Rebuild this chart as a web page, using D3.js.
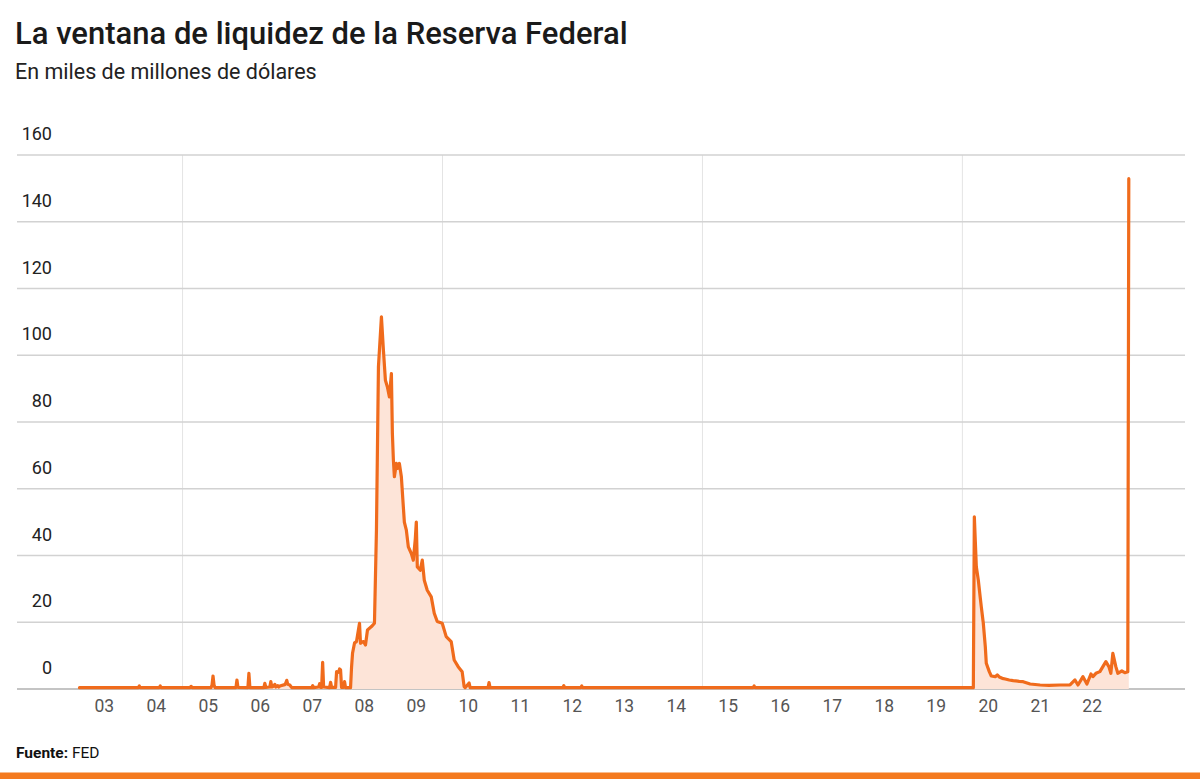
<!DOCTYPE html>
<html>
<head>
<meta charset="utf-8">
<script src="https://cdn.jsdelivr.net/npm/d3@7"></script>
<style>
  body { margin: 0; background: #fff; }
  svg { display: block; font-family: Roboto, "Noto Sans", sans-serif; }
</style>
</head>
<body>
<div id="chart"></div>
<script>
// Weekly discount window readings (billions of USD)
var dates = [
  "2003-01-08","2004-02-25","2004-03-03","2004-03-10","2004-07-21","2004-07-28","2004-08-04",
  "2005-02-23","2005-03-02","2005-03-09","2005-07-20","2005-07-27","2005-08-03","2005-08-10","2005-08-17",
  "2006-01-11","2006-01-18","2006-01-25","2006-04-05","2006-04-12","2006-04-19",
  "2006-07-26","2006-08-02","2006-08-09","2006-09-06","2006-09-13","2006-09-20","2006-10-04","2006-10-11","2006-10-18",
  "2006-11-01","2006-11-08","2006-11-15","2006-12-20","2006-12-27","2007-01-03","2007-01-10","2007-01-24","2007-02-07",
  "2007-06-27","2007-07-04","2007-07-11","2007-08-15","2007-08-22","2007-08-29","2007-09-05","2007-09-12","2007-09-19",
  "2007-10-31","2007-11-07","2007-11-14","2007-12-12","2007-12-19","2008-01-02","2008-01-09","2008-01-16","2008-01-23",
  "2008-02-06","2008-02-13","2008-02-20","2008-03-26","2008-04-02","2008-04-09","2008-04-23","2008-05-07","2008-05-28",
  "2008-06-04","2008-06-11","2008-06-25","2008-07-09","2008-07-23","2008-08-20","2008-09-10","2008-09-24","2008-10-08",
  "2008-10-29","2008-11-12","2008-11-26","2008-12-10","2008-12-24","2009-01-07","2009-01-14","2009-01-21","2009-01-28",
  "2009-02-11","2009-02-18","2009-03-04","2009-03-18","2009-04-08","2009-04-22","2009-05-06","2009-05-27","2009-06-10",
  "2009-06-24","2009-07-01","2009-07-08","2009-07-29","2009-08-12","2009-08-26","2009-09-16","2009-10-14","2009-11-04",
  "2009-11-25","2009-12-30","2010-01-27","2010-03-03","2010-03-24","2010-04-21","2010-05-19","2010-06-02","2010-06-09",
  "2010-07-07","2010-07-14","2010-11-17","2010-11-24","2010-12-01","2012-04-25","2012-05-02","2012-05-09",
  "2012-08-29","2012-09-05","2012-09-12","2015-12-23","2015-12-30","2016-01-06","2020-03-18","2020-03-25",
  "2020-04-01","2020-04-08","2020-04-22","2020-05-06","2020-05-13","2020-05-27","2020-06-10","2020-06-17","2020-07-08",
  "2020-07-22","2020-08-19","2020-09-02","2020-09-16","2020-10-07","2020-10-28","2020-11-25","2020-12-23","2021-02-03",
  "2021-03-03","2021-04-21","2021-06-30","2021-09-01","2021-11-17","2022-01-26","2022-03-02","2022-03-23","2022-04-27",
  "2022-05-25","2022-06-22","2022-07-06","2022-07-27","2022-08-24","2022-09-14","2022-10-05","2022-10-26","2022-11-09",
  "2022-11-23","2022-12-14","2022-12-28","2023-01-25","2023-02-15","2023-03-08","2023-03-15"
];
var values = [
  0.4,0.4,0.9,0.4,0.4,0.9,0.4,
  0.4,0.8,0.4,0.4,1.2,3.9,1.2,0.4,
  0.4,2.7,0.5,0.4,4.7,0.4,
  0.4,1.7,0.5,0.6,2.2,0.6,0.9,1.4,0.6,
  1.0,0.6,0.9,1.3,1.8,2.6,1.4,1.2,0.4,
  0.4,1.0,0.4,0.6,1.6,0.5,0.5,8.0,0.6,
  0.4,2.0,0.5,0.5,5.2,5.0,6.0,5.7,0.5,
  0.5,2.2,0.4,0.4,6.5,10.7,13.8,14.2,19.7,
  13.7,14.0,14.2,13.2,17.7,18.7,19.7,47.6,96.5,
  111.5,101.5,92.5,90.5,87.5,94.5,76.5,68.6,63.6,
  67.6,66.1,67.6,63.6,50.0,47.6,42.6,40.6,38.6,
  45.0,50.0,36.6,35.6,38.6,32.6,29.6,27.6,22.7,
  20.2,19.7,15.7,14.2,8.7,6.7,5.2,0.7,0.4,
  1.8,0.4,0.4,1.9,0.4,0.4,1.0,0.4,
  0.4,0.9,0.4,0.4,0.9,0.4,0.4,51.6,
  44.1,36.6,32.6,27.2,24.6,19.7,12.7,7.7,5.2,
  3.9,3.7,4.2,3.6,3.2,3.0,2.7,2.5,2.3,
  2.2,1.5,1.2,1.1,1.2,1.2,2.7,1.2,3.7,
  1.5,4.5,3.7,4.7,5.2,6.7,8.2,6.7,4.7,
  10.7,6.7,4.7,5.4,4.9,5.2,152.9
];

var yTicks = [0, 20, 40, 60, 80, 100, 120, 140, 160];
var xLabelYears = [2003,2004,2005,2006,2007,2008,2009,2010,2011,2012,2013,2014,2015,2016,2017,2018,2019,2020,2021,2022];
var xLabels = ["03","04","05","06","07","08","09","10","11","12","13","14","15","16","17","18","19","20","21","22"];
var xGridYears = [2005, 2010, 2015, 2020];

var W = 1200, H = 779;
var parse = d3.timeParse("%Y-%m-%d");
var data = dates.map(function(d, i) { return {date: parse(d), value: values[i]}; });

var svg = d3.select("#chart").append("svg")
    .attr("width", W)
    .attr("height", H);

var gridLeft = 17, gridRight = 1185;

var x = d3.scaleTime()
    .domain([new Date(2003, 0, 1), new Date(2023, 0, 1)])
    .range([78.5, 1118.4]);
var y = d3.scaleLinear()
    .domain([0, 160])
    .range([689, 155]);

// Title and subtitle
svg.append("text")
    .attr("x", 15).attr("y", 44)
    .attr("font-size", "31px").attr("font-weight", 500)
    .attr("fill", "#1a1a1a")
    .text("La ventana de liquidez de la Reserva Federal");
svg.append("text")
    .attr("x", 15).attr("y", 79)
    .attr("font-size", "21.5px")
    .attr("fill", "#222")
    .text("En miles de millones de dólares");

// Vertical gridlines
svg.selectAll(".vgrid")
  .data(xGridYears)
  .enter().append("line")
    .attr("x1", function(d) { return x(new Date(d, 0, 1)); })
    .attr("x2", function(d) { return x(new Date(d, 0, 1)); })
    .attr("y1", y(160))
    .attr("y2", y(0))
    .attr("stroke", "#e4e4e4")
    .attr("stroke-width", 1);

// Horizontal gridlines
svg.selectAll(".hgrid")
  .data(yTicks)
  .enter().append("line")
    .attr("x1", gridLeft)
    .attr("x2", gridRight)
    .attr("y1", function(d) { return y(d); })
    .attr("y2", function(d) { return y(d); })
    .attr("stroke", function(d) { return d === 0 ? "#c4c4c4" : "#d2d2d2"; })
    .attr("stroke-width", function(d) { return d === 0 ? 2 : 1.5; });

// Y labels, above each line
svg.selectAll(".ylab")
  .data(yTicks)
  .enter().append("text")
    .attr("x", 52)
    .attr("y", function(d) { return y(d) - 15; })
    .attr("text-anchor", "end")
    .attr("font-size", "18px")
    .attr("fill", "#222")
    .text(function(d) { return d; });

// Area and line
var area = d3.area()
    .x(function(d) { return x(d.date); })
    .y0(y(0))
    .y1(function(d) { return y(d.value); });
var line = d3.line()
    .x(function(d) { return x(d.date); })
    .y(function(d) { return y(d.value); });

svg.append("path")
    .datum(data)
    .attr("fill", "#fde4d8")
    .attr("d", area);
svg.append("path")
    .datum(data)
    .attr("fill", "none")
    .attr("stroke", "#f06b1c")
    .attr("stroke-width", 3.2)
    .attr("stroke-linejoin", "round")
    .attr("stroke-linecap", "round")
    .attr("d", line);

// X labels at mid-year
svg.selectAll(".xlab")
  .data(xLabelYears)
  .enter().append("text")
    .attr("x", function(d) { return x(new Date(d, 6, 1)); })
    .attr("y", 712)
    .attr("text-anchor", "middle")
    .attr("font-size", "17.5px")
    .attr("fill", "#555")
    .text(function(d, i) { return xLabels[i]; });

// Source
var src = svg.append("text")
    .attr("x", 16).attr("y", 758)
    .attr("font-size", "15.5px")
    .attr("fill", "#111");
src.append("tspan").attr("font-weight", 700).text("Fuente:");
src.append("tspan").text(" FED");

// Bottom bar
svg.append("rect")
    .attr("x", 0).attr("y", 772.5)
    .attr("width", W).attr("height", H - 772.5)
    .attr("fill", "#f47a1f");
</script>
</body>
</html>
